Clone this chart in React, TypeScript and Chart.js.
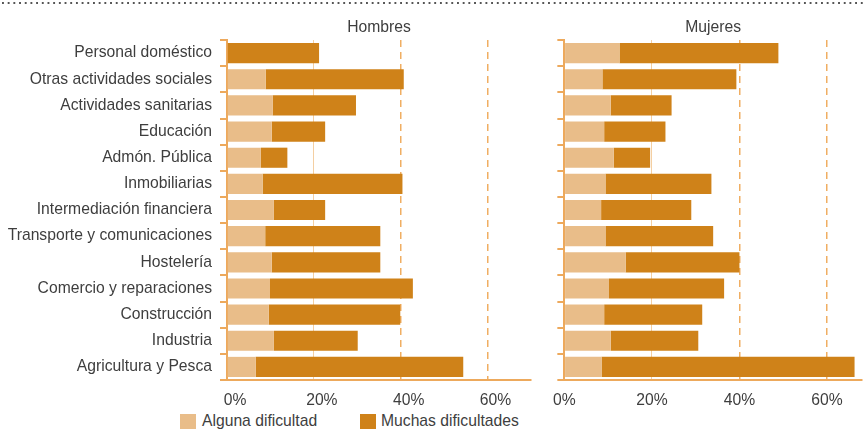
import React, { useEffect, useRef } from 'react';
import { Chart, registerables } from 'chart.js';

Chart.register(...registerables);

const categories = [
  'Personal doméstico',
  'Otras actividades sociales',
  'Actividades sanitarias',
  'Educación',
  'Admón. Pública',
  'Inmobiliarias',
  'Intermediación financiera',
  'Transporte y comunicaciones',
  'Hostelería',
  'Comercio y reparaciones',
  'Construcción',
  'Industria',
  'Agricultura y Pesca',
];

const hombresAlguna = [0, 8.9, 10.5, 10.3, 7.8, 8.2, 10.8, 8.8, 10.3, 9.9, 9.6, 10.8, 6.6];
const hombresMuchas = [21.2, 31.8, 19.2, 12.3, 6.1, 32.2, 11.8, 26.5, 25.0, 32.9, 30.3, 19.3, 47.8];

const mujeresAlguna = [12.6, 8.7, 10.6, 9.1, 11.3, 9.4, 8.4, 9.4, 14.0, 10.2, 9.1, 10.6, 8.5];
const mujeresMuchas = [36.3, 30.6, 13.9, 14.0, 8.3, 24.2, 20.6, 24.6, 26.0, 26.3, 22.4, 20.0, 57.8];

const xTickValues = [0, 20, 40, 60];
const seriesNames = ['Alguna dificultad', 'Muchas dificultades'];
const panelTitles = ['Hombres', 'Mujeres'];

const FONT = '"Liberation Sans", Arial, sans-serif';
const FS = 15.7;
const TEXT = '#3e3e3e';
const LIGHT = '#E9BD89';
const DARK = '#CF8219';
const AXIS = '#EDA95C';
const GRID_SOLID = '#F4CFA2';
const GRID_DASH = '#F0AE62';

type PanelProps = {
  title: string;
  alguna: number[];
  muchas: number[];
  max: number;
  showLabels: boolean;
  left: number;
  width: number;
  yWidth: number;
  padRight: number;
  labelShift: number;
};

function Panel(p: PanelProps) {
  const ref = useRef<HTMLCanvasElement | null>(null);
  useEffect(() => {
    if (!ref.current) return;
    const chart = new Chart(ref.current, {
      type: 'bar',
      data: {
        labels: categories,
        datasets: [
          {
            label: seriesNames[0],
            data: p.alguna,
            backgroundColor: LIGHT,
            borderWidth: 0,
            barPercentage: 0.77,
            categoryPercentage: 1,
          },
          {
            label: seriesNames[1],
            data: p.muchas,
            backgroundColor: DARK,
            borderWidth: 0,
            barPercentage: 0.77,
            categoryPercentage: 1,
          },
        ],
      },
      options: {
        indexAxis: 'y',
        responsive: false,
        animation: false,
        layout: { padding: { left: 0, right: p.padRight, top: 0, bottom: 0 } },
        plugins: {
          legend: { display: false },
          tooltip: { enabled: false },
          title: {
            display: true,
            text: p.title,
            fullSize: false,
            color: TEXT,
            font: { family: FONT, size: FS, weight: 'normal', lineHeight: 1.15 },
            padding: { top: 19, bottom: 3 },
          },
        },
        scales: {
          x: {
            stacked: true,
            min: 0,
            max: p.max,
            afterBuildTicks: (s: any) => {
              s.ticks = xTickValues.map((v) => ({ value: v }));
            },
            afterFit: (s: any) => {
              s.height = 29;
            },
            ticks: {
              color: TEXT,
              font: { family: FONT, size: FS },
              padding: 11,
              maxRotation: 0,
              minRotation: 0,
              autoSkip: false,
              labelOffset: p.labelShift,
              callback: (v: any) => v + '%',
            },
            grid: {
              drawTicks: false,
              color: (ctx: any) => {
                const v = ctx.tick ? ctx.tick.value : -1;
                if (v === 0) return 'rgba(0,0,0,0)';
                if (v === 20) return GRID_SOLID;
                return GRID_DASH;
              },
              lineWidth: (ctx: any) => {
                const v = ctx.tick ? ctx.tick.value : -1;
                return v === 20 ? 1 : 1.5;
              },
            },
            border: {
              display: true,
              color: AXIS,
              width: 2,
              dash: (ctx: any) => (ctx.tick && ctx.tick.value >= 40 ? [7, 5] : []),
            },
          },
          y: {
            stacked: true,
            afterFit: (s: any) => {
              s.width = p.yWidth;
            },
            ticks: {
              color: TEXT,
              font: { family: FONT, size: FS },
              padding: 8,
              callback: function (this: any, v: any) {
                return p.showLabels ? this.getLabelForValue(v) : '';
              },
            },
            grid: {
              offset: true,
              drawOnChartArea: false,
              drawTicks: true,
              tickLength: 7,
              color: AXIS,
              lineWidth: 2,
            },
            border: { display: true, color: AXIS, width: 2 },
          },
        },
      },
    } as any);
    return () => chart.destroy();
  }, []);
  return (
    <canvas
      ref={ref}
      width={p.width}
      height={409}
      style={{ position: 'absolute', left: p.left, top: 0, width: p.width, height: 409, display: 'block' }}
    />
  );
}

export default function App() {
  return (
    <div
      style={{
        position: 'fixed',
        left: 0,
        top: 0,
        width: 864,
        height: 430,
        background: '#fff',
        overflow: 'hidden',
        fontFamily: FONT,
      }}
    >
      <div
        style={{
          position: 'absolute',
          left: 2,
          top: 2,
          width: 862,
          height: 2,
          backgroundImage: 'linear-gradient(to right, #555 0 2px, transparent 2px 100%)',
          backgroundSize: '5.7px 2px',
          backgroundRepeat: 'repeat-x',
        }}
      />
      <Panel
        title={panelTitles[0]}
        alguna={hombresAlguna}
        muchas={hombresMuchas}
        max={70}
        showLabels={true}
        left={0}
        width={545}
        yWidth={227}
        padRight={14}
        labelShift={8}
      />
      <Panel
        title={panelTitles[1]}
        alguna={mujeresAlguna}
        muchas={mujeresMuchas}
        max={68}
        showLabels={false}
        left={542}
        width={322}
        yWidth={19}
        padRight={2}
        labelShift={0}
      />
      <div style={{ position: 'absolute', left: 180, top: 414, width: 16, height: 15, background: LIGHT }} />
      <div
        style={{ position: 'absolute', left: 202, top: 412, fontSize: FS, lineHeight: '18px', color: TEXT, whiteSpace: 'nowrap' }}
      >
        {seriesNames[0]}
      </div>
      <div style={{ position: 'absolute', left: 360, top: 414, width: 16, height: 15, background: DARK }} />
      <div
        style={{ position: 'absolute', left: 381, top: 412, fontSize: FS, lineHeight: '18px', color: TEXT, whiteSpace: 'nowrap' }}
      >
        {seriesNames[1]}
      </div>
    </div>
  );
}
